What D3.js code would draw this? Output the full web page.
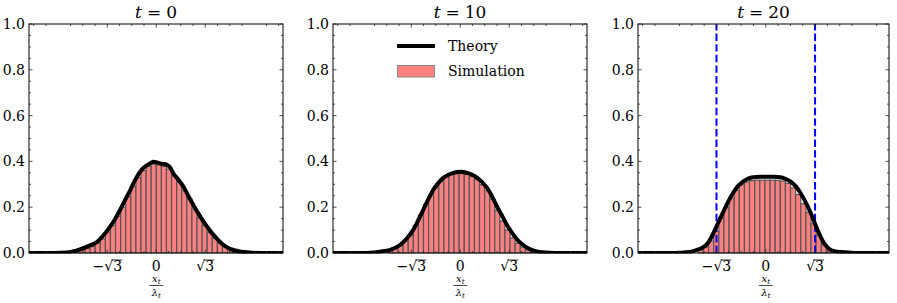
<!DOCTYPE html>
<html>
<head>
<meta charset="utf-8">
<script src="https://cdn.jsdelivr.net/npm/d3@7"></script>
<style>
  body { margin: 0; background: #fff; }
  svg { display: block; }
</style>
</head>
<body>
<script>
// ---- data ----
const times = [0, 10, 20];
const xDomains = [[-4.5, 4.48], [-4.5, 4.48], [-4.49, 4.33]];

const theoryX0 = [-4.5, -3.6, -3.16, -2.95, -2.7, -2.4, -2.09, -1.85, -1.63, -1.45, -1.28, -1.1, -0.92, -0.75, -0.57, -0.45, -0.32, -0.2, -0.11, 0.0, 0.14, 0.27, 0.39, 0.5, 0.6, 0.78, 0.96, 1.13, 1.31, 1.49, 1.67, 1.85, 2.02, 2.2, 2.38, 2.55, 2.73, 2.9, 3.09, 3.4, 3.69, 4.5];
const theoryY0 = [0, 0, 0.002, 0.007, 0.016, 0.03, 0.049, 0.08, 0.115, 0.15, 0.188, 0.232, 0.275, 0.318, 0.355, 0.372, 0.384, 0.393, 0.398, 0.396, 0.391, 0.389, 0.384, 0.372, 0.348, 0.32, 0.289, 0.25, 0.21, 0.172, 0.137, 0.106, 0.079, 0.055, 0.035, 0.022, 0.013, 0.008, 0.004, 0.001, 0, 0];

const theoryX10 = [-4.5, -3.5, -3.19, -2.84, -2.48, -2.13, -1.9, -1.67, -1.49, -1.31, -1.13, -0.96, -0.78, -0.6, -0.42, -0.25, 0, 0.25, 0.42, 0.6, 0.78, 0.96, 1.13, 1.31, 1.49, 1.67, 1.85, 2.02, 2.2, 2.38, 2.73, 3.19, 3.5, 4.5];
const theoryY10 = [0, 0, 0.001, 0.006, 0.014, 0.035, 0.062, 0.1, 0.142, 0.188, 0.235, 0.275, 0.305, 0.328, 0.342, 0.35, 0.355, 0.35, 0.342, 0.328, 0.308, 0.282, 0.245, 0.2, 0.16, 0.118, 0.085, 0.057, 0.037, 0.022, 0.006, 0.001, 0, 0];

const theoryX20 = [-4.5, -3.3, -3.03, -2.68, -2.44, -2.25, -2.09, -1.94, -1.79, -1.65, -1.51, -1.33, -1.15, -0.98, -0.8, -0.62, -0.44, -0.2, 0.04, 0.28, 0.51, 0.69, 0.87, 1.05, 1.22, 1.4, 1.58, 1.7, 1.82, 1.93, 2.04, 2.16, 2.29, 2.45, 2.64, 3.0, 3.3, 4.4];
const theoryY20 = [0, 0, 0.001, 0.004, 0.013, 0.022, 0.035, 0.062, 0.1, 0.138, 0.175, 0.222, 0.262, 0.292, 0.312, 0.325, 0.331, 0.333, 0.333, 0.333, 0.331, 0.324, 0.312, 0.292, 0.262, 0.222, 0.175, 0.137, 0.1, 0.07, 0.044, 0.026, 0.013, 0.007, 0.004, 0.001, 0, 0];

// histogram: first bin edge, bin width, bar heights
const histStart = [-2.88, -2.56, -2.37];
const histWidth = [0.18, 0.18, 0.18];
const hist0 = [0.008, 0.012, 0.02, 0.028, 0.042, 0.062, 0.092, 0.122, 0.16, 0.2, 0.245, 0.29, 0.33, 0.36, 0.378, 0.388, 0.385, 0.378, 0.366, 0.336, 0.308, 0.272, 0.236, 0.192, 0.154, 0.12, 0.09, 0.065, 0.042, 0.026, 0.016, 0.009, 0.005, 0.002];
const hist10 = [0.01, 0.018, 0.032, 0.052, 0.08, 0.12, 0.165, 0.212, 0.252, 0.285, 0.313, 0.332, 0.342, 0.346, 0.347, 0.343, 0.334, 0.32, 0.298, 0.272, 0.235, 0.186, 0.14, 0.1, 0.066, 0.042, 0.026, 0.014, 0.007];
const hist20 = [0.012, 0.026, 0.052, 0.095, 0.155, 0.198, 0.24, 0.274, 0.298, 0.31, 0.316, 0.318, 0.318, 0.318, 0.318, 0.317, 0.314, 0.304, 0.284, 0.255, 0.215, 0.178, 0.128, 0.078, 0.036, 0.014];

const yTicks = [0, 0.2, 0.4, 0.6, 0.8, 1.0];
const yTickLabels = ['0.0', '0.2', '0.4', '0.6', '0.8', '1.0'];
const xTicks = [-Math.sqrt(3), 0, Math.sqrt(3)];
const xTickLabels = ['−√3', '0', '√3'];
const boundaryLines = [null, null, [-Math.sqrt(3), Math.sqrt(3)]];
const legendLabels = ['Theory', 'Simulation'];

const theories = [[theoryX0, theoryY0], [theoryX10, theoryY10], [theoryX20, theoryY20]];
const hists = [hist0, hist10, hist20];

// ---- layout ----
let width = 897, height = 303;
let panels = [[29, 283], [333, 587], [638, 889]];
let plotTop = 24, plotBottom = 253;
let barFill = '#ff8080', barEdge = '#555555';
let serif = "'DejaVu Serif', 'Liberation Serif', serif";

let svg = d3.select('body').append('svg')
  .attr('width', width)
  .attr('height', height)
  .attr('font-family', serif)
  .style('font-family', serif);

let y = d3.scaleLinear().domain([0, 1]).range([plotBottom, plotTop]);

panels.forEach((p, i) => {
  let x = d3.scaleLinear().domain(xDomains[i]).range(p);
  let g = svg.append('g');

  g.append('clipPath').attr('id', 'clip' + i)
    .append('rect')
    .attr('x', p[0]).attr('y', plotTop)
    .attr('width', p[1] - p[0]).attr('height', plotBottom - plotTop + 0.5);

  let plot = g.append('g').attr('clip-path', 'url(#clip' + i + ')');

  // histogram bars
  plot.selectAll('rect.bar')
    .data(hists[i])
    .enter().append('rect')
    .attr('class', 'bar')
    .attr('x', (d, k) => x(histStart[i] + k * histWidth[i]))
    .attr('width', (d, k) => x(histStart[i] + (k + 1) * histWidth[i]) - x(histStart[i] + k * histWidth[i]))
    .attr('y', d => y(d))
    .attr('height', d => plotBottom - y(d))
    .attr('fill', barFill)
    .attr('stroke', barEdge)
    .attr('stroke-width', 1.2);

  // dashed boundaries
  if (boundaryLines[i]) {
    plot.selectAll('line.bound')
      .data(boundaryLines[i])
      .enter().append('line')
      .attr('x1', d => x(d)).attr('x2', d => x(d))
      .attr('y1', y(0)).attr('y2', y(1))
      .attr('stroke', '#0000ff')
      .attr('stroke-width', 2)
      .attr('stroke-dasharray', '7.4,3.2');
  }

  // theory curve
  let pts = theories[i][0].map((v, k) => [v, theories[i][1][k]]);
  plot.append('path')
    .attr('d', d3.line().x(d => x(d[0])).y(d => y(d[1])).curve(d3.curveMonotoneX)(pts))
    .attr('fill', 'none')
    .attr('stroke', '#000')
    .attr('stroke-width', 4)
    .attr('stroke-linejoin', 'round');

  // frame
  g.append('rect')
    .attr('x', p[0]).attr('y', plotTop)
    .attr('width', p[1] - p[0]).attr('height', plotBottom - plotTop)
    .attr('fill', 'none').attr('stroke', '#000').attr('stroke-width', 1);

  // ticks (inward, all four sides)
  let ticks = g.append('g').attr('stroke', '#222').attr('stroke-width', 0.8);
  let yMinor = d3.range(0, 21).map(k => k * 0.05).filter((v, k) => k % 4 !== 0);
  yTicks.forEach(v => {
    ticks.append('line').attr('x1', p[0]).attr('x2', p[0] + 3.5).attr('y1', y(v)).attr('y2', y(v));
    ticks.append('line').attr('x1', p[1]).attr('x2', p[1] - 3.5).attr('y1', y(v)).attr('y2', y(v));
  });
  yMinor.forEach(v => {
    ticks.append('line').attr('x1', p[0]).attr('x2', p[0] + 2).attr('y1', y(v)).attr('y2', y(v));
    ticks.append('line').attr('x1', p[1]).attr('x2', p[1] - 2).attr('y1', y(v)).attr('y2', y(v));
  });
  let step = Math.sqrt(3) / 4;
  let xMinor = d3.range(-12, 13).filter(k => k % 4 !== 0).map(k => k * step)
    .filter(v => v > xDomains[i][0] && v < xDomains[i][1]);
  xTicks.forEach(v => {
    ticks.append('line').attr('x1', x(v)).attr('x2', x(v)).attr('y1', plotBottom).attr('y2', plotBottom - 3.5);
    ticks.append('line').attr('x1', x(v)).attr('x2', x(v)).attr('y1', plotTop).attr('y2', plotTop + 3.5);
  });
  xMinor.forEach(v => {
    ticks.append('line').attr('x1', x(v)).attr('x2', x(v)).attr('y1', plotBottom).attr('y2', plotBottom - 2);
    ticks.append('line').attr('x1', x(v)).attr('x2', x(v)).attr('y1', plotTop).attr('y2', plotTop + 2);
  });

  // y tick labels
  g.selectAll('text.ylab')
    .data(yTicks)
    .enter().append('text')
    .attr('class', 'ylab')
    .attr('x', p[0] - 4)
    .attr('y', d => y(d))
    .attr('dy', '0.35em')
    .attr('text-anchor', 'end')
    .style('font-size', '14px')
    .text((d, k) => yTickLabels[k]);

  // x tick labels, with a vinculum over the 3
  xTicks.forEach((v, k) => {
    let t = g.append('text')
      .attr('x', x(v))
      .attr('y', 271)
      .attr('text-anchor', 'middle')
      .style('font-size', '14px')
      .text(xTickLabels[k]);
    let s = xTickLabels[k];
    if (s.indexOf('√') >= 0) {
      let n = s.length - 1;
      let e = t.node().getExtentOfChar(n);
      let r = t.node().getExtentOfChar(n - 1);
      g.append('line')
        .attr('x1', r.x + r.width * 0.8).attr('x2', e.x + e.width)
        .attr('y1', e.y + 2).attr('y2', e.y + 2)
        .attr('stroke', '#000').attr('stroke-width', 0.8);
    }
  });

  // x axis label: x_t / lambda_t
  let cx = x(0);
  let num = g.append('text').attr('x', cx).attr('y', 282).attr('text-anchor', 'middle').style('font-size', '10px');
  num.append('tspan').style('font-style', 'italic').text('x');
  num.append('tspan').style('font-style', 'italic').style('font-size', '7px').attr('dy', 1.5).text('t');
  g.append('line').attr('x1', cx - 7).attr('x2', cx + 7).attr('y1', 285.5).attr('y2', 285.5)
    .attr('stroke', '#000').attr('stroke-width', 0.7);
  let den = g.append('text').attr('x', cx).attr('y', 296).attr('text-anchor', 'middle').style('font-size', '10px');
  den.append('tspan').style('font-style', 'italic').text('λ');
  den.append('tspan').style('font-style', 'italic').style('font-size', '7px').attr('dy', 1.5).text('t');

  // title
  let title = g.append('text')
    .attr('x', (p[0] + p[1]) / 2)
    .attr('y', 18)
    .attr('text-anchor', 'middle')
    .style('font-size', '17px');
  title.append('tspan').style('font-style', 'italic').text('t');
  title.append('tspan').attr('dx', 5).text('=');
  title.append('tspan').attr('dx', 5).text(times[i]);

  // legend only in the middle panel
  if (i === 1) {
    let lg = g.append('g');
    lg.append('line')
      .attr('x1', 397).attr('x2', 435).attr('y1', 46).attr('y2', 46)
      .attr('stroke', '#000').attr('stroke-width', 4);
    lg.append('rect')
      .attr('x', 397.5).attr('y', 65.5).attr('width', 37).attr('height', 11.5)
      .attr('fill', barFill).attr('stroke', '#8a8a8a').attr('stroke-width', 1);
    lg.selectAll('text.leg')
      .data(legendLabels)
      .enter().append('text')
      .attr('class', 'leg')
      .attr('x', 448)
      .attr('y', (d, k) => 46 + k * 25)
      .attr('dy', '0.35em')
      .style('font-size', '14px')
      .text(d => d);
  }
});
</script>
</body>
</html>
